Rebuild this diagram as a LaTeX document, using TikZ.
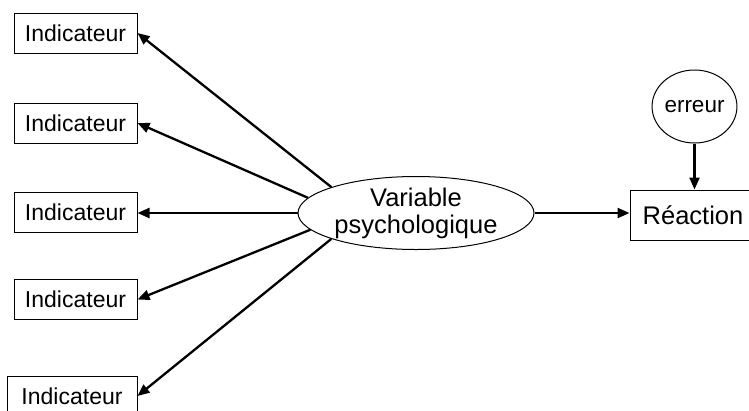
\documentclass[tikz,border=0pt]{standalone}
\usepackage{fontspec}
\setmainfont{Liberation Sans}
\usetikzlibrary{shapes.geometric,arrows.meta}
\begin{document}
\begin{tikzpicture}[x=1pt,y=-1pt,
  indbox/.style={draw,line width=1pt,minimum width=123pt,minimum height=40pt,inner sep=0pt,font=\fontsize{23}{26}\selectfont},
  conn/.style={line width=2.3pt,-{Triangle[length=12pt,width=10pt]}}]
\useasboundingbox (0,0) rectangle (749,410);
\node[indbox] (b1) at (75.5,33) {Indicateur};
\node[indbox] (b2) at (75.5,123) {Indicateur};
\node[indbox] (b3) at (75.5,212.5) {Indicateur};
\node[indbox] (b4) at (75.5,299.5) {Indicateur};
\node[indbox,minimum width=130pt] (b5) at (72,396) {Indicateur};
\node[draw,ellipse,line width=1pt,minimum width=236pt,minimum height=73pt,inner sep=0pt,align=center,font=\fontsize{25.5}{27}\selectfont] (ell) at (416,213) {Variable\\psychologique};
\node[draw,line width=1pt,minimum width=126pt,minimum height=50pt,inner sep=0pt,font=\fontsize{25.5}{28}\selectfont] (react) at (693,215) {Réaction};
\node[draw,ellipse,line width=1pt,minimum width=81pt,minimum height=73pt,inner sep=0pt,font=\fontsize{22.5}{25}\selectfont] (err) at (694.5,106.5) {erreur};
\draw[conn] (ell.163) -- (b1.east);
\draw[conn] (ell.172) -- (b2.east);
\draw[conn] (ell.west) -- (ell.west -| b3.east);
\draw[conn] (ell.189) -- (b4.east);
\draw[conn] (ell.197) -- (b5.east);
\draw[conn] (ell.east) -- (ell.east -| react.west);
\draw[conn] (err.south) -- (react.north -| err.south);
\end{tikzpicture}
\end{document}
